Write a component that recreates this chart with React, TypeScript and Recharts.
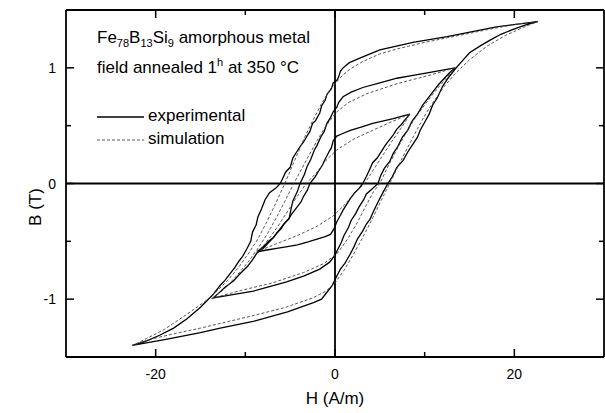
import { Line, LineChart, ReferenceLine, XAxis, YAxis } from "recharts";

type Pt = [number, number];

// H (A/m), B (T); each loop = descending branch + ascending branch
const outerExpDown: Pt[] = [
  [22.6, 1.4], [18, 1.355], [12.5, 1.27], [8.7, 1.22], [5, 1.155], [3.1, 1.095], [1.6, 1.045],
  [0.9, 1.0], [0.6, 0.97], [0.4, 0.92], [0.2, 0.89], [-0.2, 0.87], [-0.4, 0.82], [-0.9, 0.77],
  [-1.1, 0.72], [-1.5, 0.67], [-1.7, 0.61], [-2.2, 0.54], [-2.5, 0.52], [-2.8, 0.45], [-3.2, 0.4],
  [-3.5, 0.36], [-3.8, 0.33], [-4.3, 0.27], [-4.7, 0.22], [-5.0, 0.14], [-5.5, 0.1], [-5.8, 0.05],
  [-6.1, 0], [-6.6, -0.04], [-7.3, -0.08], [-7.8, -0.14], [-8.2, -0.22], [-8.6, -0.29], [-8.8, -0.36],
  [-9.2, -0.42], [-9.4, -0.5], [-9.8, -0.56], [-10.3, -0.63], [-10.7, -0.67], [-11.2, -0.73],
  [-11.7, -0.78], [-12.3, -0.84], [-12.8, -0.88], [-13.6, -0.96], [-15, -1.07], [-16.5, -1.17],
  [-18, -1.25], [-19.5, -1.31], [-21, -1.36], [-22.6, -1.4],
];
const outerExpUp: Pt[] = [
  [-22.6, -1.4], [-19, -1.35], [-15, -1.29], [-12.8, -1.25], [-9, -1.19], [-5.3, -1.11], [-2.4, -1.03],
  [-1.5, -1.0], [-0.9, -0.94], [-0.3, -0.88], [0.2, -0.8], [0.6, -0.74], [1.1, -0.69], [1.7, -0.61],
  [2.1, -0.55], [2.5, -0.48], [3.1, -0.41], [3.5, -0.35], [3.9, -0.31], [4.3, -0.24], [4.8, -0.16],
  [5.4, -0.07], [5.9, 0], [6.4, 0.06], [6.9, 0.14], [7.6, 0.2], [8.1, 0.27], [8.6, 0.33], [9.2, 0.4],
  [9.5, 0.46], [10.0, 0.53], [10.5, 0.6], [10.9, 0.68], [11.4, 0.74], [12.0, 0.84], [12.6, 0.91],
  [13.4, 0.99], [14.2, 1.06], [15, 1.13], [16.2, 1.19], [17.3, 1.24], [18.5, 1.29], [19.8, 1.33],
  [21.2, 1.37], [22.6, 1.4],
];
const middleExpDown: Pt[] = [
  [13.4, 1.0], [12, 0.98], [10.6, 0.96], [8.7, 0.935], [6.9, 0.91], [5, 0.87], [3.1, 0.83], [1.8, 0.79],
  [0.9, 0.75], [0.4, 0.7], [0.2, 0.66], [-0.2, 0.62], [-0.5, 0.57], [-0.9, 0.52], [-1.2, 0.45],
  [-1.6, 0.4], [-2.0, 0.33], [-2.3, 0.29], [-2.7, 0.21], [-3.1, 0.15], [-3.4, 0.08], [-3.9, 0],
  [-4.2, -0.07], [-4.7, -0.15], [-4.9, -0.22], [-5.1, -0.3], [-5.8, -0.36], [-6.3, -0.41], [-6.9, -0.47],
  [-7.5, -0.52], [-8.0, -0.56], [-8.7, -0.6], [-9.2, -0.66], [-9.8, -0.72], [-10.6, -0.78],
  [-11.3, -0.84], [-12.3, -0.9], [-13.0, -0.95], [-13.6, -0.99],
];
const middleExpUp: Pt[] = [
  [-13.6, -0.99], [-11.4, -0.96], [-9.1, -0.93], [-7.2, -0.89], [-5.4, -0.85], [-3.5, -0.8], [-1.7, -0.74],
  [-0.6, -0.68], [0, -0.62], [0.3, -0.57], [0.7, -0.51], [1.0, -0.45], [1.5, -0.38], [1.8, -0.32],
  [2.3, -0.26], [2.7, -0.2], [3.2, -0.14], [3.5, -0.09], [4.1, -0.05], [4.8, 0], [5.1, 0.07], [5.5, 0.13],
  [6.1, 0.19], [6.5, 0.26], [7.0, 0.32], [7.5, 0.4], [8.1, 0.46], [8.6, 0.54], [9.2, 0.6], [9.8, 0.68],
  [10.4, 0.74], [11, 0.8], [11.6, 0.86], [12.2, 0.91], [12.8, 0.96], [13.4, 1.0],
];
const innerExpDown: Pt[] = [
  [8.35, 0.6], [7.4, 0.58], [6.5, 0.56], [5.3, 0.54], [4.2, 0.52], [3, 0.49], [1.7, 0.46], [0.8, 0.43],
  [0.2, 0.41], [-0.2, 0.37], [-0.4, 0.31], [-0.7, 0.27], [-1.1, 0.21], [-1.4, 0.16], [-1.8, 0.11],
  [-2.2, 0.06], [-2.8, 0], [-3.1, -0.06], [-3.5, -0.11], [-3.8, -0.16], [-4.3, -0.21], [-4.8, -0.26],
  [-5.2, -0.31], [-5.7, -0.35], [-6.0, -0.39], [-6.5, -0.43], [-6.9, -0.47], [-7.4, -0.5], [-7.9, -0.54],
  [-8.7, -0.59],
];
const innerExpUp: Pt[] = [
  [-8.7, -0.59], [-7.6, -0.575], [-6.5, -0.56], [-5.3, -0.545], [-4.2, -0.53], [-3, -0.505], [-2, -0.48],
  [-1.1, -0.46], [-0.5, -0.44], [-0.1, -0.39], [0.2, -0.33], [0.5, -0.29], [0.9, -0.23], [1.3, -0.18],
  [1.7, -0.13], [2.2, -0.08], [2.6, -0.05], [3.1, 0], [3.5, 0.06], [3.8, 0.11], [4.2, 0.18], [4.7, 0.22],
  [5.2, 0.28], [5.6, 0.33], [6.0, 0.37], [6.5, 0.42], [6.9, 0.47], [7.4, 0.51], [7.8, 0.55], [8.35, 0.6],
];

const outerSimDown: Pt[] = [
  [22.6, 1.4], [20, 1.375], [17, 1.33], [13.5, 1.275], [10, 1.22], [7, 1.165], [5, 1.12], [3.1, 1.055],
  [1.7, 0.99], [0.9, 0.94], [0.2, 0.88], [-0.5, 0.82], [-1.5, 0.69], [-2.5, 0.54], [-3.5, 0.38],
  [-4.5, 0.2], [-5.6, 0], [-6.6, -0.17], [-7.6, -0.33], [-8.6, -0.48], [-9.6, -0.6], [-10.8, -0.73],
  [-12, -0.84], [-13.3, -0.94], [-14.5, -1.02], [-16.5, -1.13], [-19, -1.26], [-21, -1.34], [-22.6, -1.4],
];
const outerSimUp: Pt[] = [
  [-22.6, -1.4], [-20.5, -1.345], [-18, -1.3], [-15, -1.25], [-12, -1.195], [-9, -1.14], [-5.5, -1.07],
  [-2.5, -0.99], [-1, -0.93], [0, -0.86], [1, -0.75], [2, -0.62], [3, -0.48], [4, -0.33], [5, -0.17],
  [6.1, 0], [7.1, 0.16], [8.1, 0.31], [9.1, 0.46], [10.1, 0.6], [11.1, 0.72], [12.2, 0.84], [13.4, 0.95],
  [15, 1.07], [17, 1.19], [19, 1.28], [21, 1.35], [22.6, 1.4],
];
const middleSimDown: Pt[] = [
  [13.4, 1.0], [10.5, 0.935], [7, 0.865], [3.5, 0.775], [1.5, 0.7], [0.2, 0.62], [-1, 0.5], [-2, 0.37],
  [-3, 0.23], [-3.9, 0.1], [-4.6, 0], [-5.5, -0.14], [-6.5, -0.29], [-7.5, -0.43], [-8.5, -0.55],
  [-9.7, -0.68], [-11, -0.8], [-12.3, -0.91], [-13.6, -0.99],
];
const middleSimUp: Pt[] = [
  [-13.6, -0.99], [-10.5, -0.925], [-7, -0.86], [-3.5, -0.77], [-1.2, -0.69], [0.3, -0.6], [1.4, -0.48],
  [2.4, -0.35], [3.4, -0.2], [4.3, -0.07], [5, 0], [5.8, 0.13], [6.8, 0.28], [7.8, 0.42], [8.8, 0.55],
  [10, 0.68], [11.2, 0.8], [12.4, 0.91], [13.4, 1.0],
];
const innerSimDown: Pt[] = [
  [8.35, 0.6], [6.5, 0.54], [4.2, 0.46], [2, 0.38], [0.2, 0.29], [-1, 0.2], [-2, 0.1], [-3.2, 0],
  [-4.2, -0.11], [-5.2, -0.23], [-6.2, -0.35], [-7.2, -0.46], [-8, -0.54], [-8.7, -0.59],
];
const innerSimUp: Pt[] = [
  [-8.7, -0.59], [-6.5, -0.52], [-4.2, -0.45], [-2, -0.37], [-0.2, -0.28], [1, -0.19], [2, -0.1], [3.3, 0],
  [4.3, 0.12], [5.3, 0.24], [6.3, 0.36], [7.2, 0.46], [7.9, 0.54], [8.35, 0.6],
];

const xTicks = [-20, -10, 0, 10, 20];
const xLabelled = [-20, 0, 20];
const yTicks = [-1, -0.5, 0, 0.5, 1];
const yLabelled = [-1, 0, 1];

const loop = (down: Pt[], up: Pt[]) => [...down, ...up].map(([h, b]) => ({ h, b }));

const FONT = "'Liberation Sans', Arial, Helvetica, sans-serif";
const MAJOR = 8;
const MINOR = 5;
const AXIS_W = 1.8;

const BottomTick = (p: any) => {
  const major = xLabelled.includes(p.payload.value);
  const y0 = p.y; // tickSize & tickMargin are 0, so y is the axis line
  return (
    <g>
      <line x1={p.x} x2={p.x} y1={y0} y2={y0 - (major ? MAJOR : MINOR)} stroke="#000" strokeWidth={1.5} />
      {major && (
        <text x={p.x} y={y0 + 22} textAnchor="middle" fontSize={14} fontFamily={FONT} fill="#000">
          {p.payload.value}
        </text>
      )}
    </g>
  );
};

const TopTick = (p: any) => {
  const major = xLabelled.includes(p.payload.value);
  return <line x1={p.x} x2={p.x} y1={p.y} y2={p.y + (major ? MAJOR : MINOR)} stroke="#000" strokeWidth={1.5} />;
};

const LeftTick = (p: any) => {
  const major = yLabelled.includes(p.payload.value);
  const x0 = p.x;
  return (
    <g>
      <line x1={x0} x2={x0 + (major ? MAJOR : MINOR)} y1={p.y} y2={p.y} stroke="#000" strokeWidth={1.5} />
      {major && (
        <text x={x0 - 10} y={p.y + 5} textAnchor="end" fontSize={14} fontFamily={FONT} fill="#000">
          {p.payload.value}
        </text>
      )}
    </g>
  );
};

const RightTick = (p: any) => {
  const major = yLabelled.includes(p.payload.value);
  return <line x1={p.x} x2={p.x - (major ? MAJOR : MINOR)} y1={p.y} y2={p.y} stroke="#000" strokeWidth={1.5} />;
};

const exp = { stroke: "#000", strokeWidth: 1.3 };
const sim = { stroke: "#444", strokeWidth: 0.9, strokeDasharray: "3 2" };

const series = [
  { name: "outer-exp", data: loop(outerExpDown, outerExpUp), style: exp },
  { name: "middle-exp", data: loop(middleExpDown, middleExpUp), style: exp },
  { name: "inner-exp", data: loop(innerExpDown, innerExpUp), style: exp },
  { name: "outer-sim", data: loop(outerSimDown, outerSimUp), style: sim },
  { name: "middle-sim", data: loop(middleSimDown, middleSimUp), style: sim },
  { name: "inner-sim", data: loop(innerSimDown, innerSimUp), style: sim },
];

const textStyle = { position: "absolute" as const, fontFamily: FONT, fontSize: 17, color: "#000", whiteSpace: "nowrap" as const };
const subStyle = { fontSize: 11 };

export default function App() {
  return (
    <div style={{ position: "relative", width: 605, height: 413, background: "#fff" }}>
      <style>{"body{margin:0}"}</style>
      <LineChart width={605} height={413} margin={{ top: 9, right: 0, bottom: 0, left: 0 }}>
        <XAxis
          xAxisId="b"
          type="number"
          dataKey="h"
          domain={[-30, 30]}
          ticks={xTicks}
          height={56}
          tickSize={0}
          tickMargin={0}
          tickLine={false}
          tick={<BottomTick />}
          axisLine={{ stroke: "#000", strokeWidth: AXIS_W }}
          allowDataOverflow
        />
        <XAxis
          xAxisId="t"
          orientation="top"
          type="number"
          dataKey="h"
          domain={[-30, 30]}
          ticks={xTicks}
          height={1}
          tickSize={0}
          tickMargin={0}
          tickLine={false}
          tick={<TopTick />}
          axisLine={{ stroke: "#000", strokeWidth: AXIS_W }}
          allowDataOverflow
        />
        <YAxis
          yAxisId="l"
          type="number"
          dataKey="b"
          domain={[-1.5, 1.5]}
          ticks={yTicks}
          width={66}
          tickSize={0}
          tickMargin={0}
          tickLine={false}
          tick={<LeftTick />}
          axisLine={{ stroke: "#000", strokeWidth: AXIS_W }}
          allowDataOverflow
        />
        <YAxis
          yAxisId="r"
          orientation="right"
          type="number"
          dataKey="b"
          domain={[-1.5, 1.5]}
          ticks={yTicks}
          width={1}
          tickSize={0}
          tickMargin={0}
          tickLine={false}
          tick={<RightTick />}
          axisLine={{ stroke: "#000", strokeWidth: AXIS_W }}
          allowDataOverflow
        />
        <ReferenceLine xAxisId="b" yAxisId="l" x={0} stroke="#000" strokeWidth={1.8} />
        <ReferenceLine xAxisId="b" yAxisId="l" y={0} stroke="#000" strokeWidth={1.8} />
        {series.map((s) => (
          <Line
            key={s.name}
            xAxisId="b"
            yAxisId="l"
            data={s.data}
            dataKey="b"
            type="linear"
            dot={false}
            activeDot={false}
            isAnimationActive={false}
            {...s.style}
          />
        ))}
      </LineChart>

      <div style={{ ...textStyle, left: 97, top: 28 }}>
        Fe<sub style={subStyle}>78</sub>B<sub style={subStyle}>13</sub>Si<sub style={subStyle}>9</sub> amorphous metal
      </div>
      <div style={{ ...textStyle, left: 97, top: 56 }}>
        field annealed 1<sup style={subStyle}>h</sup> at 350 °C
      </div>
      <svg style={{ position: "absolute", left: 97, top: 110 }} width={48} height={36}>
        <line x1={0} x2={47} y1={7} y2={7} stroke="#000" strokeWidth={1.3} />
        <line x1={0} x2={47} y1={30} y2={30} stroke="#444" strokeWidth={0.9} strokeDasharray="3 2" />
      </svg>
      <div style={{ ...textStyle, left: 148, top: 106 }}>experimental</div>
      <div style={{ ...textStyle, left: 148, top: 129 }}>simulation</div>

      <div style={{ ...textStyle, left: 335, top: 389, transform: "translateX(-50%)" }}>H (A/m)</div>
      <div
        style={{
          ...textStyle,
          left: 36,
          top: 207,
          transform: "translate(-50%, -50%) rotate(-90deg)",
        }}
      >
        B (T)
      </div>
    </div>
  );
}
